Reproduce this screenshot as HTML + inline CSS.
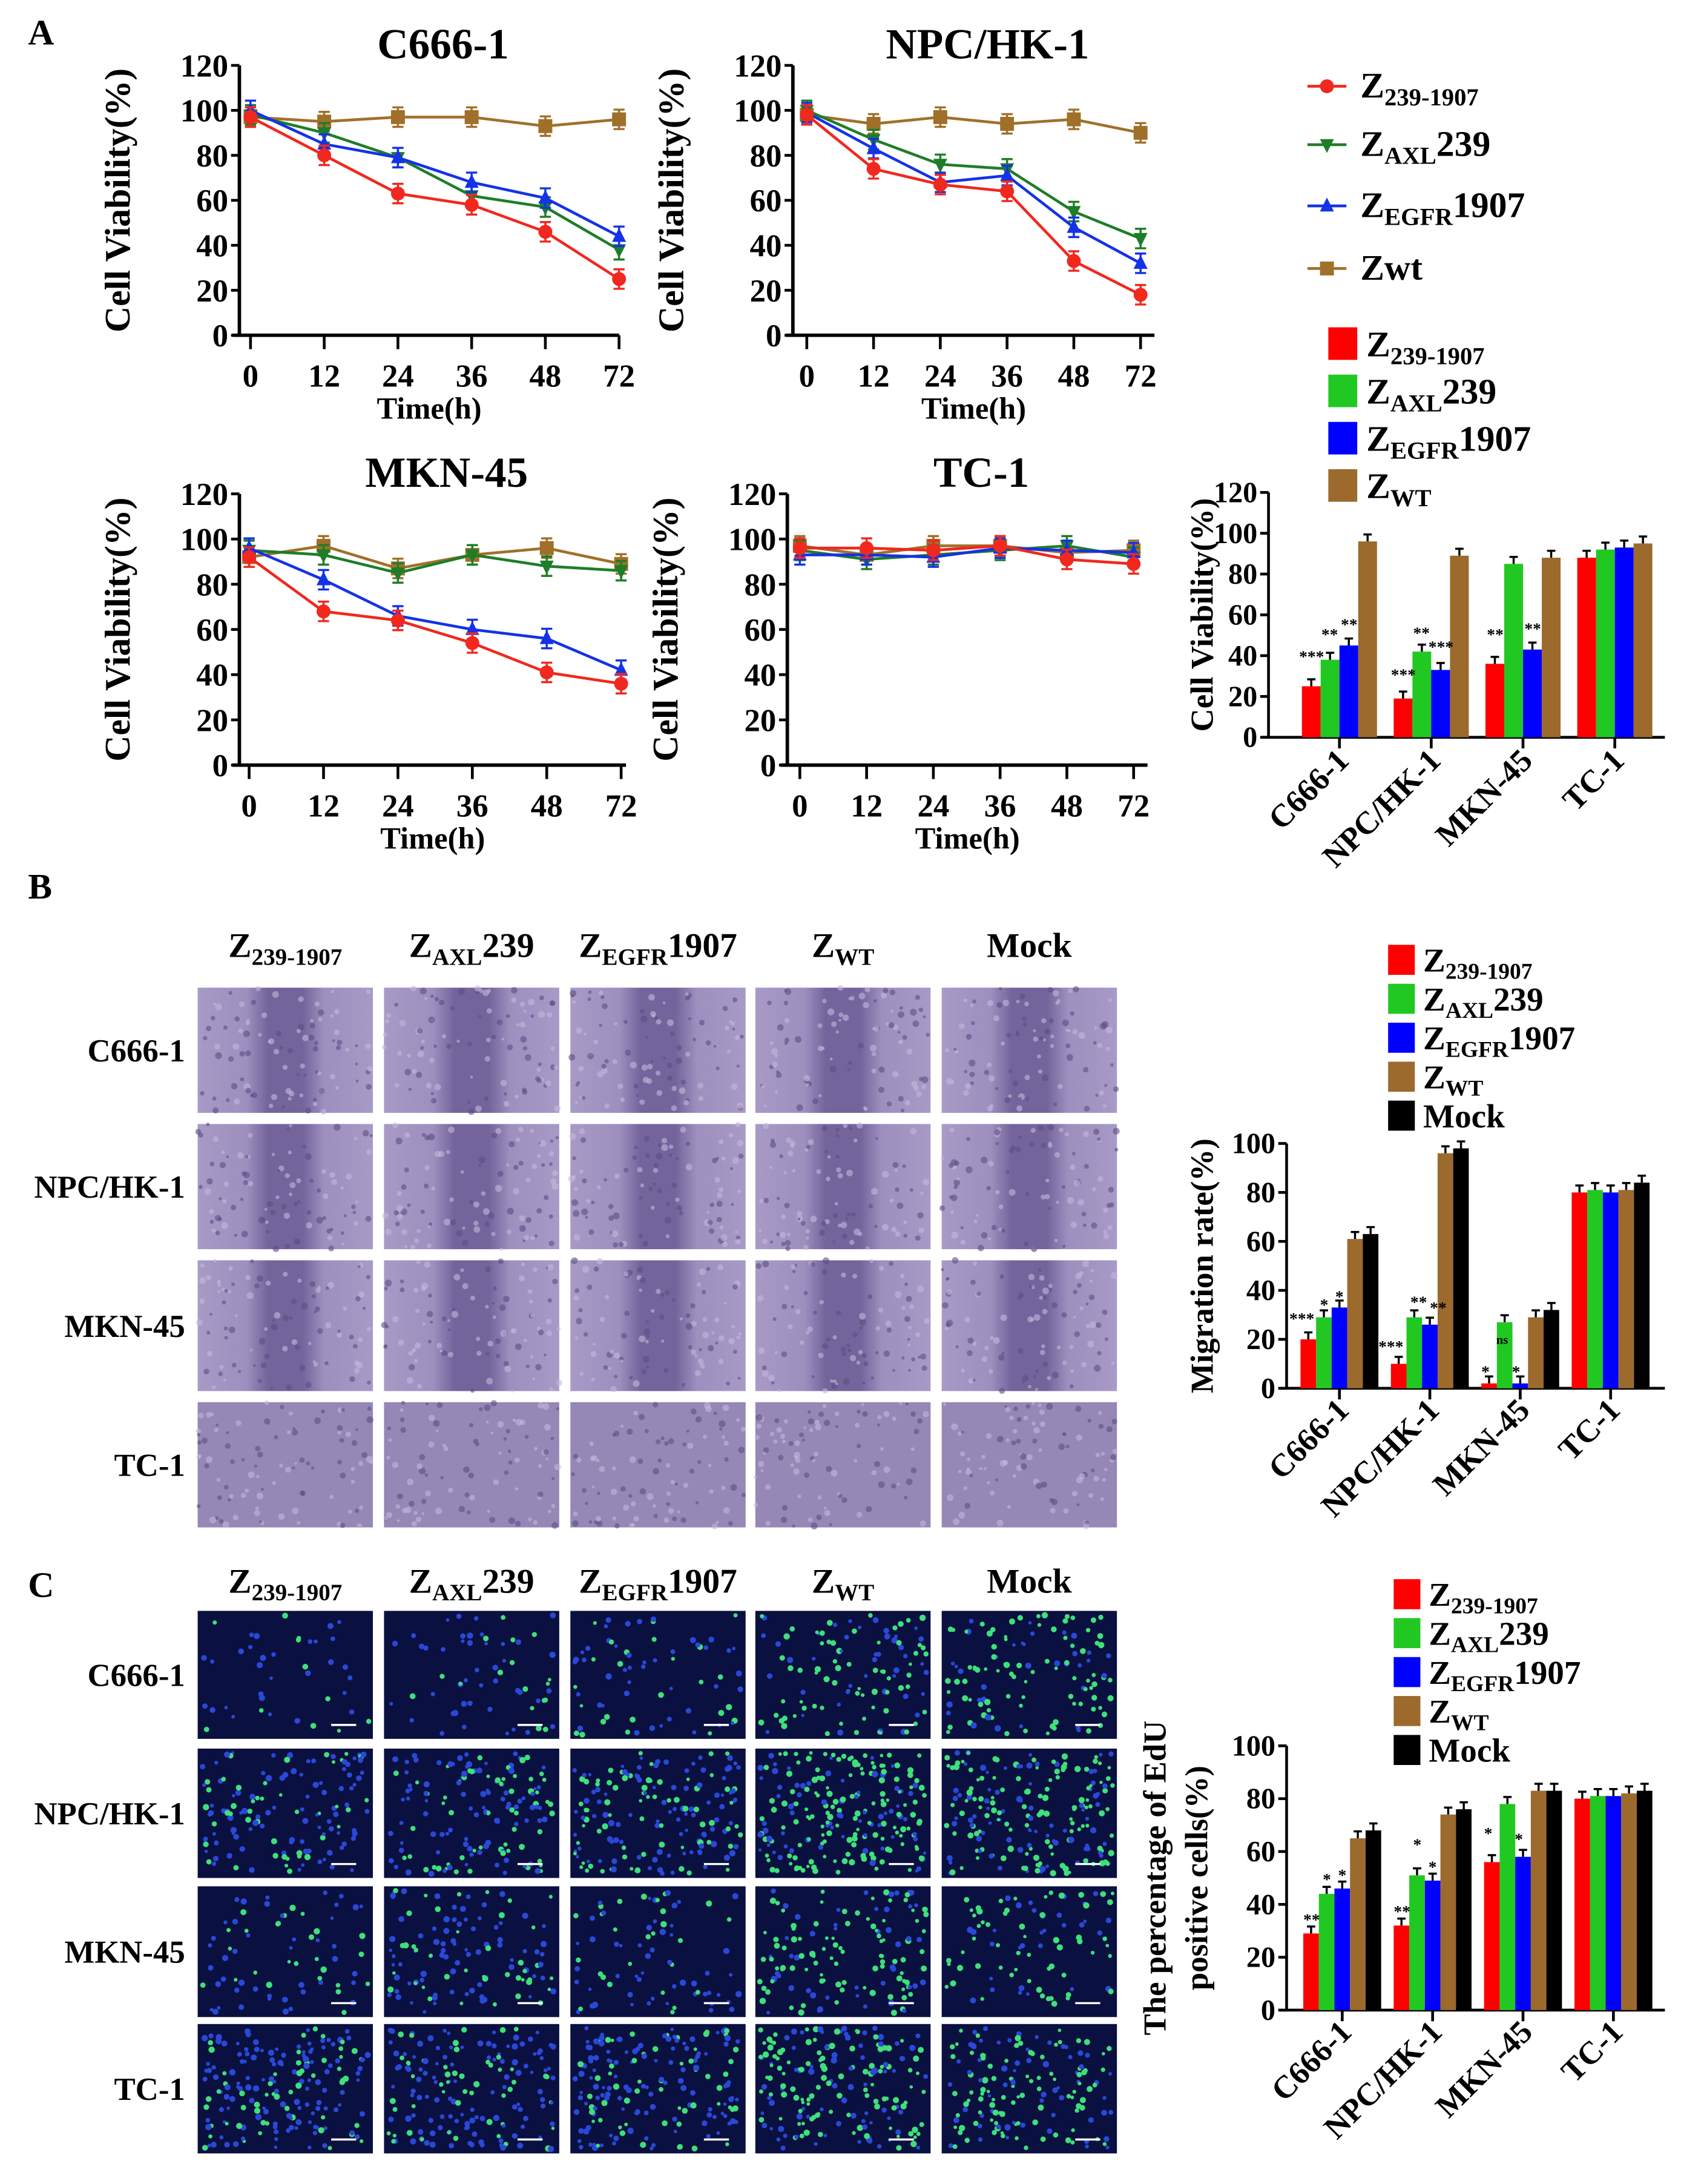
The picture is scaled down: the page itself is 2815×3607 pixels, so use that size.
<!DOCTYPE html>
<html><head><meta charset="utf-8"><style>
html,body{margin:0;padding:0;background:#fff;}
svg{display:block;font-family:"Liberation Serif",serif;font-weight:bold;}
</style></head><body>
<svg id="fig" width="2815" height="3607" viewBox="0 0 1225 1570" xmlns="http://www.w3.org/2000/svg">
<defs>
<linearGradient id="woundG" x1="0" x2="1" y1="0" y2="0">
<stop offset="0" stop-color="#a89ac6"/><stop offset="0.28" stop-color="#9d8fbe"/>
<stop offset="0.4" stop-color="#74649c"/><stop offset="0.6" stop-color="#74649c"/>
<stop offset="0.72" stop-color="#9d8fbe"/><stop offset="1" stop-color="#a89ac6"/>
</linearGradient>
</defs>
<text x="20" y="32" font-size="26">A</text>
<text x="20" y="646" font-size="26">B</text>
<text x="20" y="1148" font-size="26">C</text>
<g id="root"></g>
</svg>
<script>
// ---------- DATA ----------
const timeLabels = ["0","12","24","36","48","72"];
const lineTicks = [0,20,40,60,80,100,120];
// C666-1
const c666_red = [97,80,63,58,46,25];
const c666_green = [98,90,79,62,57,38];
const c666_blue = [100,85,79,68,61,44];
const c666_wt = [97,95,97,97,93,96];
// NPC/HK-1
const npc_red = [98,74,67,64,33,18];
const npc_green = [100,87,76,74,55,43];
const npc_blue = [99,83,68,71,48,32];
const npc_wt = [98,94,97,94,96,90];
// MKN-45
const mkn_red = [92,68,64,54,41,36];
const mkn_green = [95,93,85,93,88,86];
const mkn_blue = [96,82,66,60,56,42];
const mkn_wt = [92,97,87,93,96,89];
// TC-1
const tc_red = [96,96,95,97,91,89];
const tc_green = [95,91,93,95,97,92];
const tc_blue = [93,93,92,96,95,94];
const tc_wt = [97,93,97,97,94,95];

const cellLines = ["C666-1","NPC/HK-1","MKN-45","TC-1"];
// Bar A (viability 72h)
const barA_red = [25,19,36,88];
const barA_green = [38,42,85,92];
const barA_blue = [45,33,43,93];
const barA_wt = [96,89,88,95];
const barATicks = [0,20,40,60,80,100,120];
// Bar B (migration)
const barB_red = [20,10,2,80];
const barB_green = [29,29,27,81];
const barB_blue = [33,26,2,80];
const barB_wt = [61,96,29,81];
const barB_mock = [63,98,32,84];
const barBTicks = [0,20,40,60,80,100];
// Bar C (EdU)
const barC_red = [29,32,56,80];
const barC_green = [44,51,78,81];
const barC_blue = [46,49,58,81];
const barC_wt = [65,74,83,82];
const barC_mock = [68,76,83,83];
const barCTicks = [0,20,40,60,80,100];

// ---------- HELPERS ----------
const NS="http://www.w3.org/2000/svg";
const root=document.getElementById('root');
function mk(tag,attrs,parent){const e=document.createElementNS(NS,tag);for(const k in attrs)e.setAttribute(k,attrs[k]);(parent||root).appendChild(e);return e;}
function txt(x,y,s,size,anchor,parent){const t=mk('text',{x:x,y:y,'font-size':size,'text-anchor':anchor||'start'},parent);t.textContent=s;return t;}
function subLabel(x,y,main,sub,rest,size,parent,anchor){
  const t=mk('text',{x:x,y:y,'font-size':size,'text-anchor':anchor||'start'},parent);
  const a=mk('tspan',{},t);a.textContent=main;
  if(sub){const b=mk('tspan',{'font-size':size*0.68,dy:size*0.22},t);b.textContent=sub;}
  if(rest){const c=mk('tspan',{dy:sub?-size*0.22:0},t);c.textContent=rest;}
  return t;
}
const COL={red:'#f0281e',green:'#1e7d28',blue:'#1432e6',wt:'#a0702a'};
const BCOL={red:'#ff0000',green:'#22c822',blue:'#0000ff',wt:'#9b6a2c',mock:'#000000'};

function marker(g,type,x,y,c){
  const r=5;
  if(type==='circle') return mk('circle',{cx:x,cy:y,r:r,fill:c},g);
  if(type==='square') return mk('rect',{x:x-r,y:y-r,width:2*r,height:2*r,fill:c},g);
  if(type==='up') return mk('polygon',{points:`${x},${y-r-1} ${x-r},${y+r-1} ${x+r},${y+r-1}`,fill:c},g);
  return mk('polygon',{points:`${x},${y+r+1} ${x-r},${y-r+1} ${x+r},${y-r+1}`,fill:c},g);
}

function lineChart(name,title,ax,yTop,yBot,x0,step,xEnd,series){
  const g=mk('g',{});
  
  
  const ys=v=>yBot-(v/120)*(yBot-yTop);
  const xs=i=>x0+i*step;
  mk('line',{x1:ax,y1:yTop,x2:ax,y2:yBot,stroke:'#000','stroke-width':2.5},g);
  mk('line',{x1:ax-5,y1:yBot,x2:xEnd,y2:yBot,stroke:'#000','stroke-width':2.5},g);
  lineTicks.forEach(v=>{mk('line',{x1:ax-6,y1:ys(v),x2:ax,y2:ys(v),stroke:'#000','stroke-width':2},g);
    const t=txt(ax-8,ys(v)+8,String(v),23,'end',g);
    });
  timeLabels.forEach((s,i)=>{mk('line',{x1:xs(i),y1:yBot,x2:xs(i),y2:yBot+10,stroke:'#000','stroke-width':2},g);
    const t=txt(xs(i),yBot+37,s,23,'middle',g);
    });
  const tt=txt((ax+xEnd)/2+10,yTop-5,title,31,'middle',g);
  
  const xt=txt((ax+xEnd)/2,yBot+60,'Time(h)',22,'middle',g);
  
  const yx=ax-88, yy=(yTop+yBot)/2;
  const yt=txt(yx,yy,'Cell Viability(%)',26,'middle',g);
  yt.setAttribute('transform',`rotate(-90 ${yx} ${yy})`);yt.setAttribute('dy','9');
  
  series.forEach(s=>{
    const pts=s.vals.map((v,i)=>xs(i)+','+ys(v)).join(' ');
    const pl=mk('polyline',{points:pts,fill:'none',stroke:COL[s.c],'stroke-width':2},g);
    
    s.vals.forEach((v,i)=>{
      mk('line',{x1:xs(i),y1:ys(v)-7,x2:xs(i),y2:ys(v)+7,stroke:COL[s.c],'stroke-width':1.5},g);
      mk('line',{x1:xs(i)-4,y1:ys(v)-7,x2:xs(i)+4,y2:ys(v)-7,stroke:COL[s.c],'stroke-width':1.5},g);
      mk('line',{x1:xs(i)-4,y1:ys(v)+7,x2:xs(i)+4,y2:ys(v)+7,stroke:COL[s.c],'stroke-width':1.5},g);
      const m=marker(g,s.m,xs(i),ys(v),COL[s.c]);
      
    });
  });
}
function seriesSet(r,gr,b,w){return [{vals:w,c:'wt',m:'square'},{vals:gr,c:'green',m:'down'},{vals:b,c:'blue',m:'up'},{vals:r,c:'red',m:'circle'}];}
lineChart('c666-1','C666-1',172,47,241,180,53,445,seriesSet(c666_red,c666_green,c666_blue,c666_wt));
lineChart('npc-hk-1','NPC/HK-1',570,47,241,580,48,830,seriesSet(npc_red,npc_green,npc_blue,npc_wt));
lineChart('mkn-45','MKN-45',172,355,550,179,53.5,450,seriesSet(mkn_red,mkn_green,mkn_blue,mkn_wt));
lineChart('tc-1','TC-1',566,355,550,575,48,825,seriesSet(tc_red,tc_green,tc_blue,tc_wt));

// line legend
(function(){
  const g=mk('g',{});
  const items=[['red','circle','Z','239-1907','',62],['green','down','Z','AXL','239',104],['blue','up','Z','EGFR','1907',148],['wt','square','Z','','wt',193]];
  items.forEach(it=>{
    const e=mk('g',{},g);
    mk('line',{x1:940,y1:it[5],x2:968,y2:it[5],stroke:COL[it[0]],'stroke-width':2},e);
    marker(e,it[1],954,it[5],COL[it[0]]);
    subLabel(978,it[5]+8,it[2],it[3],it[4],26,e);
  });
})();

function barChart(name,ax,yTop,yBot,xEnd,maxV,ticks,groupStart,groupStep,bw,series,yTitleLines,yTitleX,labelY){
  const g=mk('g',{});
  const ys=v=>yBot-(v/maxV)*(yBot-yTop);
  const n=series.length;
  const gx=i=>groupStart+i*groupStep;
  mk('line',{x1:ax,y1:yTop,x2:ax,y2:yBot,stroke:'#000','stroke-width':2},g);
  mk('line',{x1:ax-5,y1:yBot,x2:xEnd,y2:yBot,stroke:'#000','stroke-width':2},g);
  ticks.forEach(v=>{mk('line',{x1:ax-6,y1:ys(v),x2:ax,y2:ys(v),stroke:'#000','stroke-width':2},g);
    const t=txt(ax-8,ys(v)+7,String(v),21,'end',g);});
  cellLines.forEach((c,i)=>{
    const cx=gx(i)+n*bw/2;
    mk('line',{x1:cx,y1:yBot,x2:cx,y2:yBot+8,stroke:'#000','stroke-width':2},g);
    const t=txt(cx+8,labelY,c,23,'end',g);
    t.setAttribute('transform',`rotate(-45 ${cx+8} ${labelY})`);
    
    series.forEach((s,j)=>{
      const v=s.vals[i];const x=gx(i)+j*bw;
      const r=mk('rect',{x:x,y:ys(v),width:bw,height:yBot-ys(v),fill:BCOL[s.c]},g);
      
      mk('line',{x1:x+bw/2,y1:ys(v),x2:x+bw/2,y2:ys(v)-5,stroke:'#000','stroke-width':1.5},g);
      mk('line',{x1:x+bw/2-3,y1:ys(v)-5,x2:x+bw/2+3,y2:ys(v)-5,stroke:'#000','stroke-width':1.5},g);
    });
  });
  const yy=(yTop+yBot)/2;
  yTitleLines.forEach((l,k)=>{
    const x=yTitleX+k*30;
    const t=txt(x,yy,l,23,'middle',g);t.setAttribute('transform',`rotate(-90 ${x} ${yy})`);
    
  });
}
function barLegend(name,x,y0,dy,items,size){
  const g=mk('g',{});
  items.forEach((it,k)=>{
    const e=mk('g',{},g);
    const y=y0+k*dy;
    mk('rect',{x:x,y:y-size*0.45,width:size*0.8,height:size*0.9,fill:BCOL[it[0]]},e);
    subLabel(x+size*1.05,y+size*0.35,it[1],it[2],it[3],size,e);
  });
}
barLegend('bar-a-legend',955,247,34,[['red','Z','239-1907',''],['green','Z','AXL','239'],['blue','Z','EGFR','1907'],['wt','Z','WT','']],26);
barChart('bar-chart-a',912,354,530,1197,120,barATicks,936,66,13.5,
  [{vals:barA_red,c:'red'},{vals:barA_green,c:'green'},{vals:barA_blue,c:'blue'},{vals:barA_wt,c:'wt'}],['Cell Viability(%)'],872,548);
barLegend('bar-b-legend',998,690,28,[['red','Z','239-1907',''],['green','Z','AXL','239'],['blue','Z','EGFR','1907'],['wt','Z','WT',''],['mock','Mock','','']],24);
barChart('bar-chart-b',925,822,998,1197,100,barBTicks,935,65,11.2,
  [{vals:barB_red,c:'red'},{vals:barB_green,c:'green'},{vals:barB_blue,c:'blue'},{vals:barB_wt,c:'wt'},{vals:barB_mock,c:'mock'}],['Migration rate(%)'],872,1015);
barLegend('bar-c-legend',1002,1146,28,[['red','Z','239-1907',''],['green','Z','AXL','239'],['blue','Z','EGFR','1907'],['wt','Z','WT',''],['mock','Mock','','']],24);
barChart('bar-chart-c',925,1255,1445,1197,100,barCTicks,937,65,11.2,
  [{vals:barC_red,c:'red'},{vals:barC_green,c:'green'},{vals:barC_blue,c:'blue'},{vals:barC_wt,c:'wt'},{vals:barC_mock,c:'mock'}],['The percentage of EdU','positive cells(%)'],838,1462);

// significance stars (decorative)
[[943,476,'***'],[956,460,'**'],[970,453,'**'],[1009,489,'***'],[1022,459,'**'],[1036,469,'***'],[1075,460,'**'],[1102,456,'**'],
 [936,952,'***'],[952,942,'*'],[963,936,'*'],[1000,972,'***'],[1020,940,'**'],[1034,944,'**'],[1068,990,'*'],[1080,966,'ns'],[1090,990,'*'],
 [943,1384,'**'],[954,1355,'*'],[965,1352,'*'],[1008,1378,'**'],[1019,1330,'*'],[1030,1346,'*'],[1070,1322,'*'],[1092,1326,'*']].forEach(s=>{
  const t=txt(s[0],s[1],s[2],s[2]==='ns'?9:12,'middle');
  
});

// image grids
const colX=[142,276,410,543,677];
const colW=126;
const headers=[['Z','239-1907',''],['Z','AXL','239'],['Z','EGFR','1907'],['Z','WT',''],['Mock','','']];
const rowNames=["C666-1","NPC/HK-1","MKN-45","TC-1"];
function headerRow(y,name){
  const g=mk('g',{});
  headers.forEach((h,i)=>subLabel(colX[i]+colW/2,y,h[0],h[1],h[2],25,g,'middle'));
}
headerRow(688,'panel-b-column-headers');
headerRow(1145,'panel-c-column-headers');
let seed=12345;
function rnd(){seed=(seed*1103515245+12345)%2147483648;return seed/2147483648;}
const bRows=[[710,90],[808,90],[906,94],[1008,90]];
bRows.forEach((r,ri)=>{
  const l=txt(133,r[0]+r[1]/2+8,rowNames[ri],23,'end');
  
  colX.forEach((x,ci)=>{
    const im=mk('rect',{x:x,y:r[0],width:colW,height:r[1],fill:ri===3?'#9587b6':'url(#woundG)'});
    
    for(let k=0;k<90;k++){mk('circle',{cx:x+rnd()*colW,cy:r[0]+rnd()*r[1],r:1+rnd()*1.5,fill:rnd()<0.5?'#c4b8da':'#5c4e86',opacity:0.6});}
  });
});
const cRows=[[1158,92],[1257,93],[1356,94],[1455,93]];
const density=[[40,60,70,110,120],[140,150,170,220,200],[70,120,80,140,90],[180,170,180,190,160]];
cRows.forEach((r,ri)=>{
  const l=txt(133,r[0]+r[1]/2+8,rowNames[ri],23,'end');
  
  colX.forEach((x,ci)=>{
    const im=mk('rect',{x:x,y:r[0],width:colW,height:r[1],fill:'#0a1040'});
    
    const n=density[ri][ci];
    for(let k=0;k<n;k++){
      const gr=rnd()<(ci>=3?0.6:0.35);
      mk('circle',{cx:x+3+rnd()*(colW-6),cy:r[0]+3+rnd()*(r[1]-6),r:1.2+rnd()*1.1,fill:gr?'#3ee07a':'#2a48d8'});
    }
    mk('line',{x1:x+colW-30,y1:r[0]+r[1]-10,x2:x+colW-12,y2:r[0]+r[1]-10,stroke:'#fff','stroke-width':1.5});
  });
});
</script>
</body></html>
